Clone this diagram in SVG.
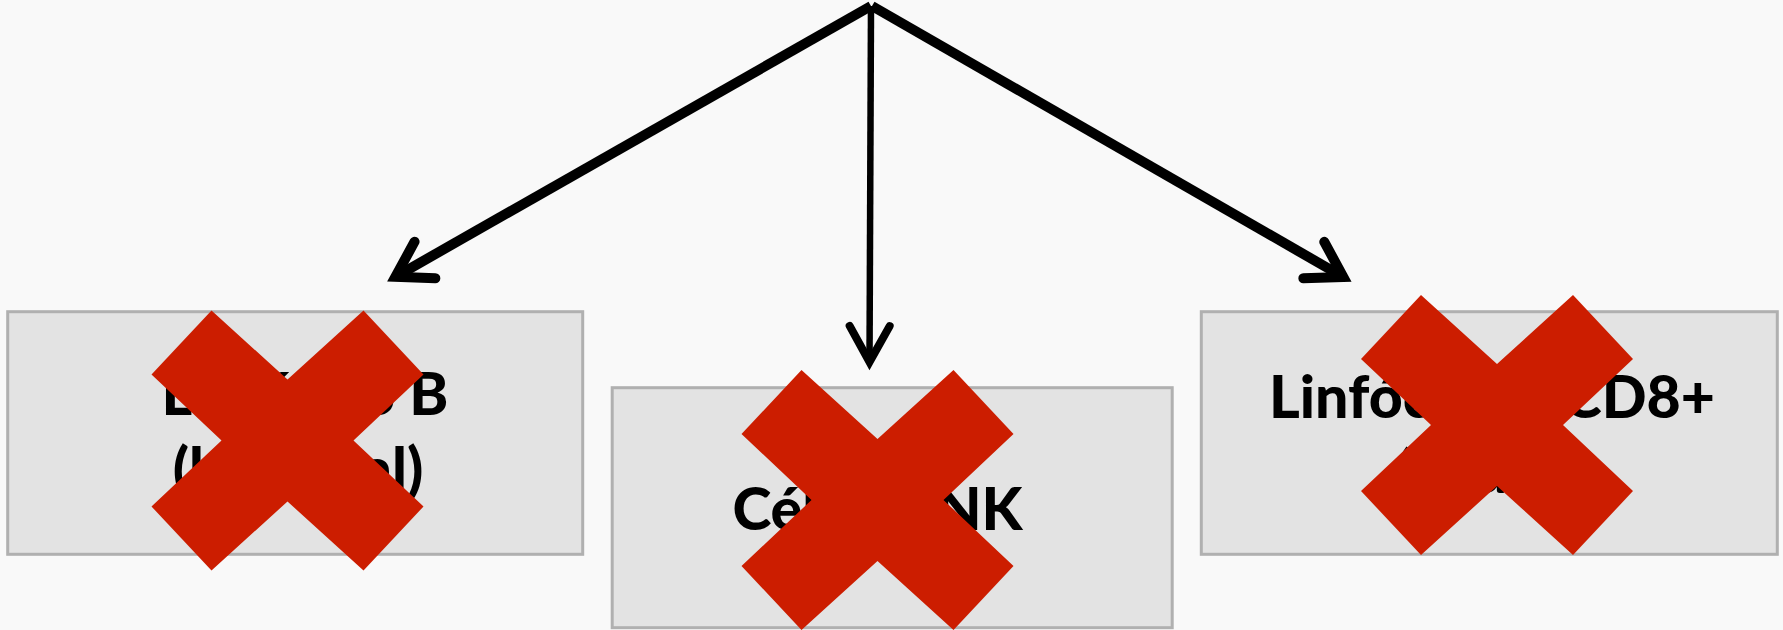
<svg xmlns="http://www.w3.org/2000/svg" width="1783" height="630" viewBox="0 0 1783 630">
  <style>
    .box { fill: #e3e3e3; stroke: #b0b0b0; stroke-width: 3; }
    .lbl { font-family: Lato, "Liberation Sans", sans-serif; font-weight: 900; font-size: 59px; fill: #000; text-anchor: middle; }
    .it { font-style: italic; }
    .edge { fill: none; stroke: #000; stroke-linecap: butt; }
    .thick { stroke-width: 10; }
    .thin { stroke-width: 6.5; }
    .cross { fill: #cc1d00; }
  </style>
  <defs>
    <marker id="headThick" markerUnits="userSpaceOnUse" markerWidth="120" markerHeight="120" viewBox="-60 -60 120 120" refX="0" refY="0" orient="auto" overflow="visible">
      <path d="M -34,-21 L 0,0 L -34,21" fill="none" stroke="#000" stroke-width="10" stroke-linecap="round" stroke-linejoin="miter" stroke-miterlimit="10"/>
    </marker>
    <marker id="headThin" markerUnits="userSpaceOnUse" markerWidth="120" markerHeight="120" viewBox="-60 -60 120 120" refX="0" refY="0" orient="auto" overflow="visible">
      <path d="M -36,-20 L 0,0 L -36,20" fill="none" stroke="#000" stroke-width="8" stroke-linecap="round" stroke-linejoin="miter" stroke-miterlimit="10"/>
    </marker>
    <polygon id="xmark" class="cross" points="-76,-130 0,-61 76,-130 136,-66 66,0 136,66 76,130 0,61 -76,130 -136,66 -66,0 -136,-66"/>
  </defs>

  <rect x="0" y="0" width="1783" height="630" fill="#f9f9f9"/>

  <g id="connectors">
    <line class="edge thick" x1="871" y1="6" x2="395.4" y2="276.8" marker-end="url(#headThick)"/>
    <line class="edge thin" x1="871" y1="6" x2="869.5" y2="362" marker-end="url(#headThin)"/>
    <line class="edge thick" x1="872" y1="6" x2="1343.3" y2="277" marker-end="url(#headThick)"/>
  </g>

  <g id="node-b">
    <rect class="box" x="7.7" y="311.7" width="575" height="242.6"/>
    <text class="lbl" x="305" y="415">Linfócito B</text>
    <text class="lbl" x="298" y="490">(humoral)</text>
    <use href="#xmark" x="287.5" y="440.5"/>
  </g>

  <g id="node-nk">
    <rect class="box" x="612.2" y="387.7" width="560" height="240"/>
    <text class="lbl" x="877.5" y="530">Células NK</text>
    <use href="#xmark" x="877.5" y="500"/>
  </g>

  <g id="node-cd8">
    <rect class="box" x="1201.3" y="311.7" width="576" height="242.6"/>
    <text class="lbl" x="1492" y="418">Linfócito T CD8+</text>
    <text class="lbl it" x="1492" y="493">(celular)</text>
    <use href="#xmark" x="1497" y="425"/>
  </g>
</svg>
